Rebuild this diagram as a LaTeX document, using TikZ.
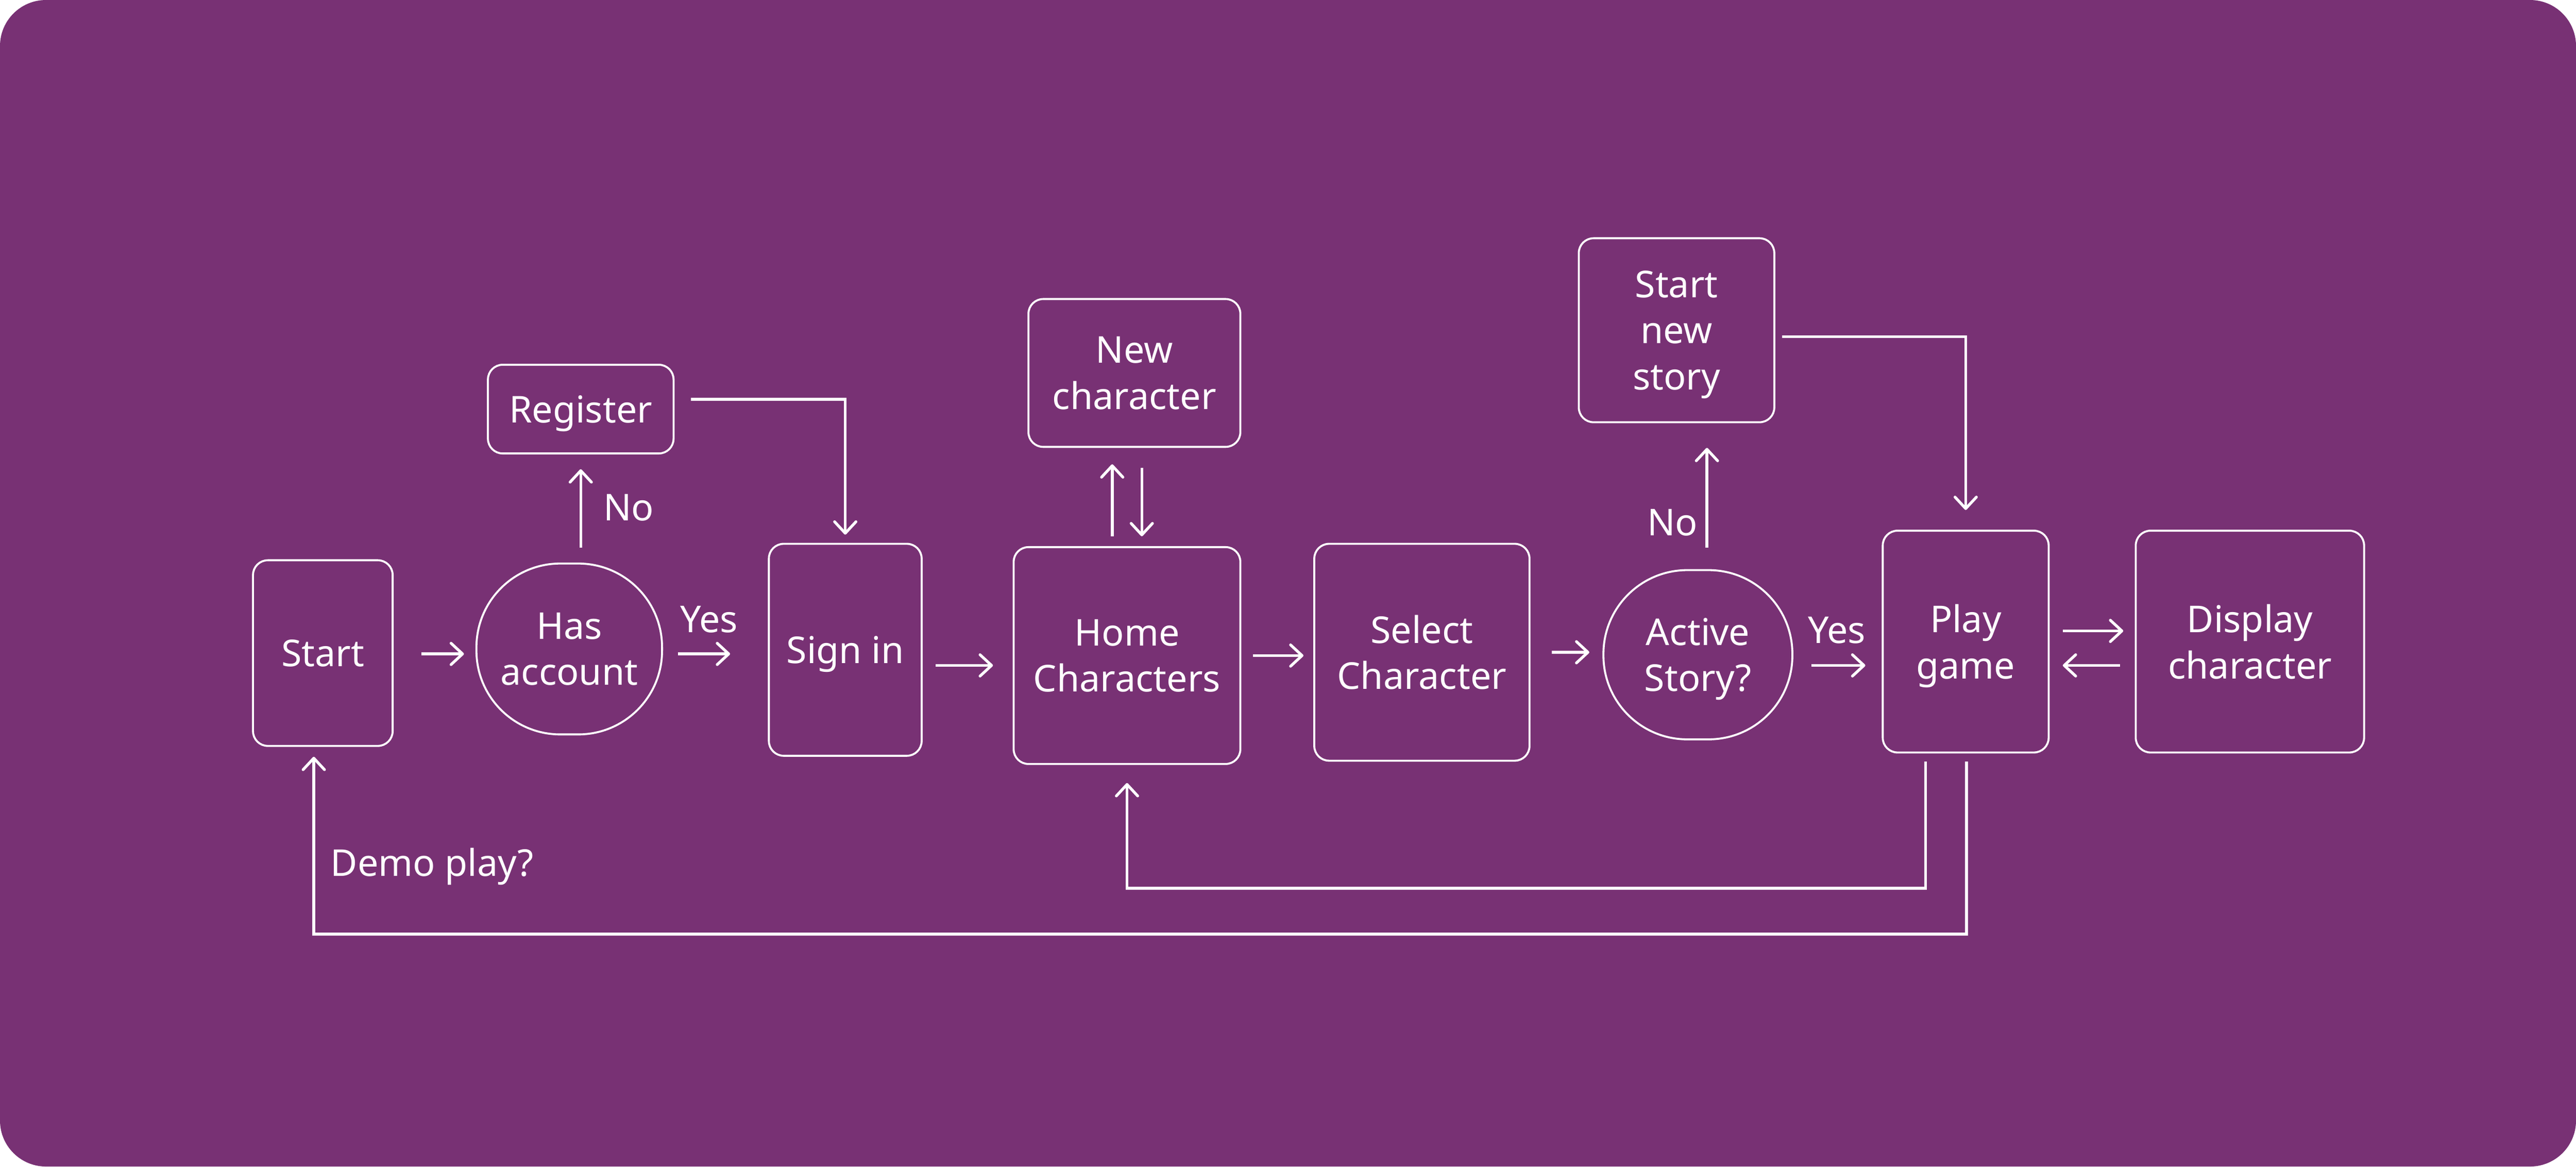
\documentclass[tikz,border=0pt]{standalone}
\usepackage{fontspec}
\setmainfont{Noto Sans}
\usetikzlibrary{arrows.meta}
\definecolor{bg}{RGB}{120,49,116}
\begin{document}
\begin{tikzpicture}[x=1pt,y=-1pt,
  box/.style={draw=white, line width=1.2pt, rounded corners=9pt, text=white, align=center,
    font=\fontsize{22.5}{28}\selectfont, inner sep=0pt, text depth=0pt},
  pill/.style={box, rounded corners=51pt},
  conn/.style={draw=white, line width=1.7pt, -{Straight Barb[length=7pt,width=13pt,round]}},
  lbl/.style={text=white, font=\fontsize{22.5}{28}\selectfont, inner sep=0pt, anchor=base}]
\useasboundingbox (0,0) rectangle (1568,710);
\fill[white] (0,0) rectangle (1568,710);
\fill[bg, rounded corners=28pt] (0,0) rectangle (1568,710);

\node[box, minimum width=85pt, minimum height=113pt] (start) at (196.5,397.5) {Start};
\node[pill, minimum width=113pt, minimum height=104pt] (has) at (346.5,395) {Has\\account};
\node[box, minimum width=93pt, minimum height=129pt] (signin) at (514.5,395.5) {Sign in};
\node[box, minimum width=113pt, minimum height=54pt] (register) at (353.5,249) {Register};
\node[box, minimum width=138pt, minimum height=132pt] (home) at (686,399) {Home\\Characters};
\node[box, minimum width=129pt, minimum height=90pt] (newchar) at (690.5,227) {New\\character};
\node[box, minimum width=131pt, minimum height=132pt] (select) at (865.5,397) {Select\\Character};
\node[pill, minimum width=115pt, minimum height=103pt] (active) at (1033.5,398.5) {Active\\Story?};
\node[box, minimum width=119pt, minimum height=112pt] (startnew) at (1020.5,201) {Start\\new\\story};
\node[box, minimum width=101pt, minimum height=135pt] (play) at (1196.5,390.5) {Play\\game};
\node[box, minimum width=139pt, minimum height=135pt] (display) at (1369.5,390.5) {Display\\character};

\draw[conn, shorten <=17pt, shorten >=7pt] (start.east |- 0,398) -- (has.west |- 0,398);
\draw[conn, shorten <=9pt, shorten >=23pt] (has.east |- 0,398) -- (signin.west |- 0,398);
\node[lbl] (yes1) at (431.5,385) {Yes};
\draw[conn, shorten <=9pt, shorten >=9pt] (register.south |- has.north) -- (register.south);
\node[lbl] (no1) at (382.6,316.8) {No};
\draw[conn, shorten <=10pt, shorten >=5pt] (register.east |- 0,243) -| (signin.north);
\draw[conn, shorten <=8pt, shorten >=12pt] (signin.east |- 0,405) -- (home.west |- 0,405);
\draw[conn, shorten <=6pt, shorten >=10pt] (home.north -| 677,0) -- (newchar.south -| 677,0);
\draw[conn, shorten <=12pt, shorten >=6pt] (newchar.south -| 695,0) -- (home.north -| 695,0);
\draw[conn, shorten <=7pt, shorten >=6pt] (home.east |- 0,399) -- (select.west |- 0,399);
\draw[conn, shorten <=13pt, shorten >=8pt] (select.east |- 0,397) -- (active.west |- 0,397);
\draw[conn, shorten <=13pt, shorten >=15pt] (active.north -| 1039,0) -- (startnew.south -| 1039,0);
\node[lbl] (no2) at (1018,326) {No};
\draw[conn, shorten <=4pt, shorten >=12pt] (startnew.east |- 0,205) -| (play.north);
\draw[conn, shorten <=11pt, shorten >=10pt] (active.east |- 0,405) -- (play.west |- 0,405);
\node[lbl] (yes2) at (1118,391.5) {Yes};
\draw[conn, shorten <=8pt, shorten >=7pt] (play.east |- 0,384) -- (display.west |- 0,384);
\draw[conn, shorten <=9pt, shorten >=8pt] (display.west |- 0,405) -- (play.east |- 0,405);
\draw[conn, shorten <=5pt, shorten >=11pt] (play.south -| 1172,0) -- ++(0,82) -| (home.south);
\draw[conn, shorten <=5pt, shorten >=6pt] (play.south -| 1197,0) -- ++(0,110) -| (start.south -| 191,0);
\node[lbl] (demo) at (263,533.4) {Demo play?};
\end{tikzpicture}
\end{document}
